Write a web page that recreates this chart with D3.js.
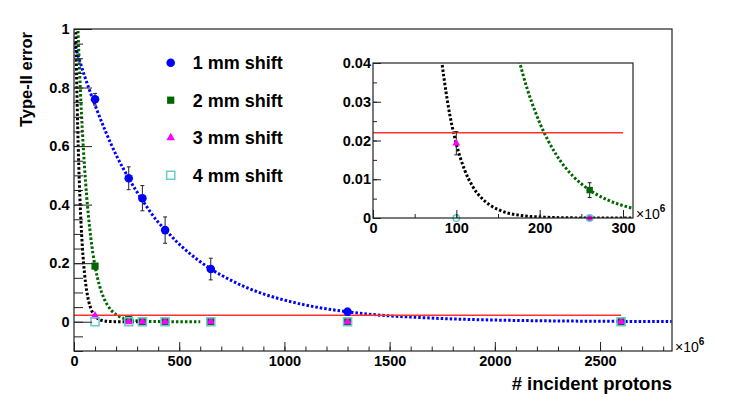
<!DOCTYPE html>
<html>
<head>
<meta charset="utf-8">
<script src="https://cdn.jsdelivr.net/npm/d3@7.9.0/dist/d3.min.js"></script>
<style>
  body { margin: 0; background: #fff; }
  svg { display: block; font-family: 'Liberation Sans', Arial, sans-serif; font-weight: bold; }
</style>
</head>
<body>
<div id="chart"></div>
<script>
// number of incident protons, in units of 10^6
const protons = [100, 260, 325, 433, 650, 1300, 2600];

// type-II error per detector shift
const shift1mm = [0.76, 0.49, 0.422, 0.313, 0.18, 0.034, 0];
const shift1mmErr = [0.02, 0.039, 0.043, 0.045, 0.037, 0.012, 0];
const shift2mm = [0.19, 0.0072, 0, 0, 0, 0, 0];
const shift2mmErr = [0.005, 0.0019, 0, 0, 0, 0, 0];
const shift3mm = [0.0193, 0, 0, 0, 0, 0, 0];
const shift3mmErr = [0.003, 0, 0, 0, 0, 0, 0];
const shift4mm = [0, 0, 0, 0, 0, 0, 0];
const shift4mmErr = [0, 0, 0, 0, 0, 0, 0];

// dotted fit curves, [protons, error] pairs
const fit1mm = [[0, 0.955], [50, 0.84], [100, 0.74], [150, 0.65], [200, 0.57], [260, 0.49], [325, 0.415],
  [400, 0.34], [433, 0.315], [500, 0.265], [600, 0.205], [650, 0.18], [700, 0.159], [800, 0.123],
  [900, 0.095], [1000, 0.074], [1100, 0.057], [1200, 0.044], [1300, 0.034], [1400, 0.026], [1500, 0.02],
  [1600, 0.016], [1800, 0.0095], [2000, 0.0057], [2200, 0.0034], [2400, 0.002], [2600, 0.0012], [2840, 0.0006]];
const fit2mm = [[0, 1.47], [10, 1.2], [20, 0.976], [30, 0.796], [40, 0.649], [50, 0.529], [60, 0.431],
  [70, 0.351], [80, 0.286], [90, 0.233], [100, 0.19], [120, 0.126], [140, 0.084], [160, 0.0557],
  [180, 0.037], [200, 0.0246], [220, 0.0163], [240, 0.0108], [260, 0.0072], [280, 0.0048], [300, 0.0032],
  [320, 0.0021], [360, 0.0009], [400, 0.0004], [500, 0.00005], [600, 0]];
const fit3mm = [[0, 1.42], [5, 1.144], [10, 0.923], [15, 0.744], [20, 0.6], [25, 0.483], [30, 0.39],
  [40, 0.253], [50, 0.165], [60, 0.107], [70, 0.0695], [80, 0.0452], [90, 0.0293], [100, 0.0191],
  [110, 0.0124], [120, 0.008], [130, 0.0052], [140, 0.0034], [160, 0.0014], [180, 0.0006],
  [200, 0.00026], [250, 0.00002], [320, 0]];

// red threshold line
const threshold = 0.022;
const thresholdRange = [0, 2600];

// tick labels
const mainXTicks = [0, 500, 1000, 1500, 2000, 2500];
const mainYTicks = [0, 0.2, 0.4, 0.6, 0.8, 1];
const insetXTicks = [0, 100, 200, 300];
const insetYTicks = [0, 0.01, 0.02, 0.03, 0.04];

const legendLabels = ['1 mm shift', '2 mm shift', '3 mm shift', '4 mm shift'];

const width = 747;
const height = 403;

const series = [
  { values: shift1mm, errs: shift1mmErr, color: '#0000ff', type: d3.symbolCircle, size: 58, fill: true },
  { values: shift2mm, errs: shift2mmErr, color: '#006600', type: d3.symbolSquare, size: 52, fill: true },
  { values: shift3mm, errs: shift3mmErr, color: '#ff00ff', type: d3.symbolTriangle, size: 32, fill: true },
  { values: shift4mm, errs: shift4mmErr, color: '#66cccc', type: d3.symbolSquare, size: 66, fill: false },
];
const fits = [
  { pts: fit1mm, color: '#0000ff' },
  { pts: fit2mm, color: '#006600' },
  { pts: fit3mm, color: '#000000' },
];

const svg = d3.select('#chart')
  .append('svg')
  .attr('width', width)
  .attr('height', height);

// draws a framed plot with ROOT style inward ticks
function drawPanel(opts) {
  const { x, y, id, xTicks, yTicks, xMinor, yMinor, xTickLen, yTickLen, inset } = opts;
  const [x0, x1] = x.range();
  const [y0, y1] = y.range();

  const g = svg.append('g');

  g.append('rect')
    .attr('x', x0).attr('y', y1)
    .attr('width', x1 - x0).attr('height', y0 - y1)
    .attr('fill', '#fff');

  svg.append('clipPath').attr('id', id)
    .append('rect')
    .attr('x', x0).attr('y', y1)
    .attr('width', x1 - x0).attr('height', y0 - y1);

  const plot = g.append('g').attr('clip-path', `url(#${id})`);

  // fit curves
  const line = d3.line()
    .x(d => x(d[0]))
    .y(d => y(d[1]))
    .curve(d3.curveMonotoneX);

  plot.selectAll('path.fit')
    .data(fits)
    .join('path')
    .attr('class', 'fit')
    .attr('d', d => line(d.pts))
    .attr('fill', 'none')
    .attr('stroke', d => d.color)
    .attr('stroke-width', 3)
    .attr('stroke-dasharray', '2.5,2');

  // threshold
  plot.append('line')
    .attr('x1', x(thresholdRange[0]))
    .attr('x2', x(inset ? 300 : thresholdRange[1]))
    .attr('y1', y(threshold))
    .attr('y2', y(threshold))
    .attr('stroke', '#ff3030')
    .attr('stroke-width', 1.5);

  // error bars
  series.forEach(s => {
    const bars = protons.map((p, i) => ({ p, v: s.values[i], e: s.errs[i] })).filter(d => d.e > 0);
    const eg = plot.append('g').attr('stroke', '#222').attr('stroke-width', 1);
    bars.forEach(d => {
      eg.append('line')
        .attr('x1', x(d.p)).attr('x2', x(d.p))
        .attr('y1', y(d.v - d.e)).attr('y2', y(d.v + d.e));
      [d.v - d.e, d.v + d.e].forEach(v => {
        eg.append('line')
          .attr('x1', x(d.p) - 2).attr('x2', x(d.p) + 2)
          .attr('y1', y(v)).attr('y2', y(v));
      });
    });
  });

  // markers
  const markers = g.append('g');
  series.forEach(s => {
    const pts = protons.map((p, i) => ({ p, v: s.values[i] }))
      .filter(d => x(d.p) <= x1 && y(d.v) >= y1 - 1);
    markers.append('g')
      .selectAll('path')
      .data(pts)
      .join('path')
      .attr('transform', d => `translate(${x(d.p)},${y(d.v)})`)
      .attr('d', d => {
        let type = s.type;
        let size = s.size;
        if (inset && d.v === 0) { type = d3.symbolCircle; size = 34; }
        else if (inset) size = s.size * 0.8;
        return d3.symbol().type(type).size(size)();
      })
      .attr('fill', d => (s.fill ? s.color : 'none'))
      .attr('stroke', s.color)
      .attr('stroke-width', s.fill ? 0 : 1.5);
  });

  // axes
  const fontSize = '14.5px';
  g.append('g')
    .attr('transform', `translate(0,${y0})`)
    .call(d3.axisBottom(x).tickValues(xMinor).tickSize(-xTickLen / 2).tickFormat(''))
    .call(a => a.select('.domain').remove());
  g.append('g')
    .attr('transform', `translate(0,${y0})`)
    .call(d3.axisBottom(x).tickValues(xTicks).tickSize(-xTickLen).tickPadding(5).tickFormat(d => String(d)))
    .call(a => a.select('.domain').remove());
  g.append('g')
    .attr('transform', `translate(${x0},0)`)
    .call(d3.axisLeft(y).tickValues(yMinor).tickSize(-yTickLen / 2).tickFormat(''))
    .call(a => a.select('.domain').remove());
  g.append('g')
    .attr('transform', `translate(${x0},0)`)
    .call(d3.axisLeft(y).tickValues(yTicks).tickSize(-yTickLen).tickPadding(inset ? 2 : 4.5).tickFormat(d => String(+d.toFixed(3))))
    .call(a => a.select('.domain').remove());

  g.selectAll('.tick line').attr('stroke', '#222');
  g.selectAll('.tick text')
    .attr('fill', '#000')
    .style('font-family', "'Liberation Sans', Arial, sans-serif")
    .style('font-weight', 'bold')
    .style('font-size', fontSize);

  // frame
  g.append('rect')
    .attr('x', x0).attr('y', y1)
    .attr('width', x1 - x0).attr('height', y0 - y1)
    .attr('fill', 'none')
    .attr('stroke', '#222')
    .attr('stroke-width', 1.2);

  // x10^6 exponent
  const ex = g.append('text')
    .attr('x', x1 + 3)
    .attr('y', y0 + 1)
    .style('font-size', '14px');
  ex.append('tspan').style('font-weight', 'normal').text('\u00d710');
  ex.append('tspan').attr('dy', -7).style('font-size', '10px').text('6');

  return g;
}

// main plot
const xMain = d3.scaleLinear().domain([0, 2842]).range([74, 672]);
const yMain = d3.scaleLinear().domain([-0.1, 1]).range([351, 29]);
drawPanel({
  x: xMain, y: yMain, id: 'clip-main',
  xTicks: mainXTicks, yTicks: mainYTicks,
  xMinor: d3.range(0, 2842, 100), yMinor: d3.range(-0.1, 1.001, 0.05),
  xTickLen: 9, yTickLen: 18, inset: false,
});

// axis titles
svg.append('text')
  .attr('x', 672)
  .attr('y', 389.5)
  .attr('text-anchor', 'end')
  .style('font-size', '18.5px')
  .text('# incident protons');

svg.append('text')
  .attr('transform', 'translate(32,32) rotate(-90)')
  .attr('text-anchor', 'end')
  .style('font-size', '16.5px')
  .text('Type-II error');

// legend
const legend = svg.append('g');
series.forEach((s, i) => {
  const ly = 62.7 + i * 37.5;
  legend.append('path')
    .attr('transform', `translate(170.7,${ly})`)
    .attr('d', d3.symbol().type(s.type).size(s.size)())
    .attr('fill', s.fill ? s.color : 'none')
    .attr('stroke', s.color)
    .attr('stroke-width', s.fill ? 0 : 1.5);
  legend.append('text')
    .attr('x', 192.7)
    .attr('y', ly + 6.5)
    .style('font-size', '18px')
    .text(legendLabels[i]);
});

// inset
const xInset = d3.scaleLinear().domain([0, 312]).range([373, 633]);
const yInset = d3.scaleLinear().domain([0, 0.04]).range([218, 63]);
drawPanel({
  x: xInset, y: yInset, id: 'clip-inset',
  xTicks: insetXTicks, yTicks: insetYTicks,
  xMinor: d3.range(0, 312, 50), yMinor: d3.range(0, 0.0401, 0.005),
  xTickLen: 8, yTickLen: 8, inset: true,
});
</script>
</body>
</html>
